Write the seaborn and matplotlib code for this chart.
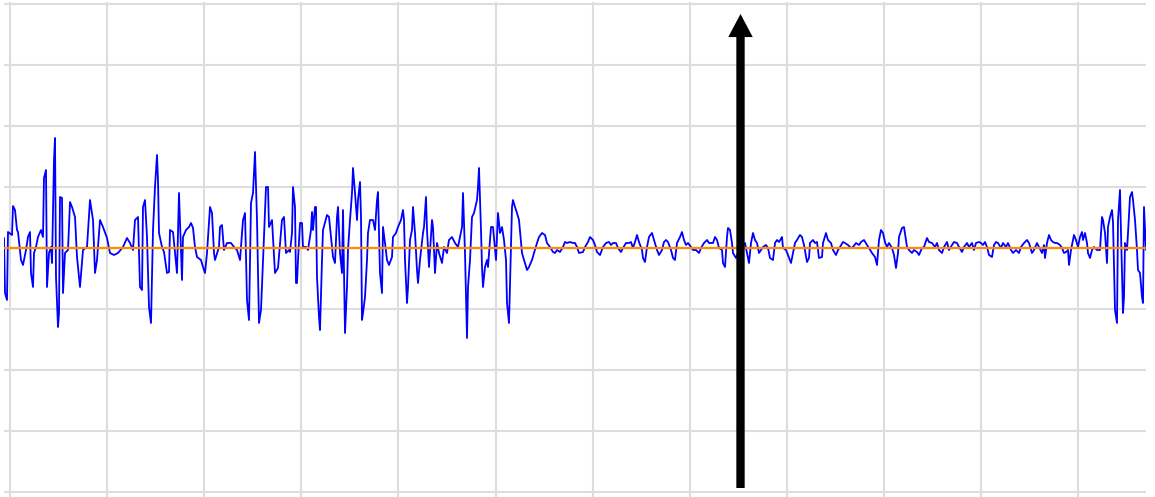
import numpy as np
import pandas as pd
import matplotlib
matplotlib.use("Agg")
import matplotlib.pyplot as plt
import seaborn as sns

# ---- signal readings (position, amplitude) ----
SEG1 = [(4,10),(5,-45),(7,-52),(8,16),(12,13),(13,42),(15,38),(17,18),(18,16),(21,-12),(23,-17),(26,-2),(28,11),(30,16),(31,-25),(33,-39),(34,-5),(36,1),(38,11),(41,18),(43,11),(44,70),(46,78),(47,-39),(49,-5),(51,1),(52,-15),(54,88),(55,110),(56,-29),(58,-79),(59,-65),(60,51),(62,50),(63,-45),(65,-5),(68,-2),(70,46),(72,41),(75,31),(77,-9),(80,-39),(83,-2),(87,1),(90,48),(93,28),(95,-25),(97,-12),(100,28),(103,21),(107,10),(110,-5),(114,-7),(118,-5),(123,1),(127,10),(130,5),(133,-2),(135,28),(138,31),(140,-39),(142,-42),(143,41),(145,48),(147,11),(149,-59),(151,-75),(153,18),(155,61),(157,93),(158,68),(159,15),(162,1),(164,-4),(167,-25),(169,-24),(170,18),(173,16),(175,-5),(177,-25),(179,55),(182,-32),(183,11),(186,18),(189,21),(191,25),(193,20),(195,1),(197,-9),(201,-12),(203,-19),(205,-25),(207,-5),(210,41),(212,35),(214,-5),(215,-12),(219,1),(220,21),(222,23),(224,-2),(227,5),(231,5),(234,1),(237,-2),(240,-12),(243,28),(245,35),(247,-52),(249,-72),(251,45),(253,55),(255,96),(256,61),(257,28),(259,-75),(261,-62),(263,-12),(266,61),(268,61),(269,21),(272,28),(275,-25),(278,-20),(282,28),(284,31),(286,-5),(289,-2)]
SEG2 = [(290,-4),(292,15),(293,61),(295,41),(296,-35),(297,-35),(298,-12),(300,25),(302,25),(303,1),(306,1),(308,-2),(311,18),(312,36),(313,18),(315,41),(316,41),(317,-29),(319,-69),(320,-82),(322,-12),(323,18),(327,33),(329,31),(331,11),(333,-9),(335,-15),(337,31),(338,41),(340,-5),(342,-25),(343,38),(345,-85),(347,-39),(348,-2),(350,28),(352,55),(353,80),(355,55),(357,28),(358,48),(360,66),(361,31),(362,-72),(363,-65),(365,-49),(367,-12),(368,15),(370,28),(373,28),(375,18),(377,48),(378,56),(380,-25),(382,-45),(383,21),(385,5),(387,-12),(389,-17),(392,-9),(393,11),(396,15),(398,21),(401,28),(403,38),(404,28),(405,-12),(407,-55),(408,-39),(410,8),(412,18),(413,41),(415,15),(417,-22),(418,-35),(420,-12),(423,15),(424,21),(426,51),(427,18),(429,-19),(432,28),(433,21),(435,-25),(437,5),(439,-5),(442,-15),(444,1),(447,-5),(449,8),(452,11),(455,5),(458,1),(462,21),(463,55),(465,-5),(467,-90),(468,-39),(470,-12),(472,31),(474,35),(477,48),(478,61),(479,80),(481,18),(482,-19),(483,-39),(485,-19),(487,-12),(488,-19),(491,21),(493,21),(496,-12),(498,35),(500,15),(502,21),(504,8),(506,-12),(507,-55),(509,-75),(510,-35),(512,41),(513,48),(515,41),(517,35),(519,28)]
SEG3 = [(522,-5),(525,-15),(527,-22),(529,-19),(532,-12),(534,-5),(537,5),(539,11),(542,15),(545,13),(547,5),(550,1),(553,-4),(555,-5),(557,-2),(560,-4),(563,1),(565,6),(567,5),(570,6),(573,5),(575,5),(577,1),(579,-5),(583,-4),(585,1),(588,6),(590,11),(593,8),(595,3),(597,-4),(600,-7),(603,1),(606,5),(609,6),(611,3),(613,5),(616,5),(618,0),(621,-4),(623,0),(626,5),(629,5),(631,6),(633,0),(635,6),(637,13),(639,6),(642,-2),(643,-10),(645,-14),(647,1),(649,11),(652,15),(654,8),(657,-2),(659,-7),(662,-2),(664,6),(666,8),(668,6),(671,-2),(673,-10),(675,-12),(677,5),(680,11),(682,16),(684,8),(686,3),(688,5),(691,1),(693,-2),(696,-2),(699,-5),(701,0),(704,5),(707,8),(709,5)]
SEG4 = [(710,5),(713,5),(715,11),(717,8),(719,0),(722,-2),(723,-15),(725,-19),(727,11),(728,20),(730,18),(732,5),(733,-5),(736,-10),(738,-5),(742,1),(745,5),(747,-5),(749,-15),(751,5),(753,15),(755,8),(757,5),(759,-5),(761,-2),(763,1),(766,3),(768,0),(770,-10),(773,-12),(775,5),(777,8),(779,6),(782,11),(783,0),(786,-2),(788,-7),(791,-15),(793,-5),(795,5),(797,8),(800,13),(802,11),(804,3),(807,-14),(809,-10),(810,5),(813,8),(815,5),(817,6),(819,-10),(822,-9),(823,5),(826,15),(828,8),(831,5),(833,-2),(836,-7),(838,-2),(840,1),(843,6),(845,5),(848,3),(851,0),(853,1),(856,5),(859,3),(861,6),(864,8),(867,3),(869,0),(872,-5),(875,-9),(877,-17),(879,8),(881,18),(883,15),(885,6),(887,1),(889,5),(892,0),(894,-7),(896,-20),(898,-5),(899,11)]
SEG5 = [(902,20),(904,21),(906,8),(907,1),(909,-2),(912,-5),(914,-2),(917,-4),(919,-7),(922,0),(924,1),(927,10),(929,6),(932,5),(935,1),(937,5),(939,-2),(942,-5),(944,1),(947,6),(949,-2),(952,3),(954,6),(957,5),(959,1),(962,-4),(964,1),(967,5),(969,1),(972,5),(974,-2),(976,5),(979,6),(981,5),(983,3),(985,6),(987,1),(989,-7),(992,-9),(994,3),(996,6),(998,5),(1001,0),(1003,5),(1006,1),(1008,5),(1011,-2),(1013,-5),(1016,-2),(1019,-5),(1021,1),(1024,5),(1027,8),(1029,5),(1032,-5),(1034,-2),(1037,5),(1039,1),(1042,-5),(1044,3),(1045,-10),(1047,5),(1049,13),(1051,8),(1053,6),(1055,5),(1057,5),(1060,3),(1062,0),(1064,-5),(1066,-4),(1068,-2),(1069,-17),(1071,-2),(1073,8),(1074,13),(1076,8),(1078,1),(1080,11),(1082,16),(1083,8),(1085,15),(1087,5),(1088,-5),(1090,-10),(1092,-2),(1094,1),(1097,-2)]
SEG6 = [(1100,-2),(1102,31),(1103,28),(1105,15),(1107,-15),(1108,21),(1110,31),(1112,38),(1113,26),(1115,-62),(1117,-75),(1118,28),(1120,58),(1121,15),(1123,-65),(1124,-49),(1125,5),(1127,-2),(1128,15),(1130,51),(1132,56),(1133,48),(1135,28),(1137,-2),(1138,-22),(1140,-25),(1142,-49),(1143,-55),(1144,41),(1146,-2)]

BASELINE = 0
ARROW_X = 740.5
ARROW_FROM = -240
ARROW_TO = 234

# ---- build frame ----
pts = SEG1 + SEG2 + SEG3 + SEG4 + SEG5 + SEG6
df = pd.DataFrame(pts, columns=["t", "amp"])

sns.set_style("white")
fig = plt.figure(figsize=(11.55, 4.97), dpi=100)
ax = fig.add_axes([4 / 1155, -3 / 497, 1142 / 1155, 498 / 497])

ax.set_xlim(4, 1146)
ax.set_ylim(-252, 246)
ax.set_xticks(10 + 97.1 * np.arange(12))
ax.set_yticks(61 * np.arange(-4, 5))
ax.grid(True, color="#dddddd", linewidth=1.5)
ax.set_axisbelow(True)
ax.tick_params(length=0, labelbottom=False, labelleft=False)
for s in ax.spines.values():
    s.set_visible(False)

sns.lineplot(data=df, x="t", y="amp", ax=ax, color="#0000ff", linewidth=1.3,
             estimator=None, sort=False, zorder=2)
ax.axhline(BASELINE, color="#ff8c00", linewidth=1.6, zorder=3)

ax.annotate("", xy=(ARROW_X, ARROW_TO), xytext=(ARROW_X, ARROW_FROM),
            arrowprops=dict(arrowstyle="simple,head_length=1.66,head_width=1.76,tail_width=0.6",
                            mutation_scale=10, fc="black", ec="none", lw=0,
                            shrinkA=0, shrinkB=0), zorder=4)

ax.set_xlabel("")
ax.set_ylabel("")
fig.savefig("out.png", dpi=100)
